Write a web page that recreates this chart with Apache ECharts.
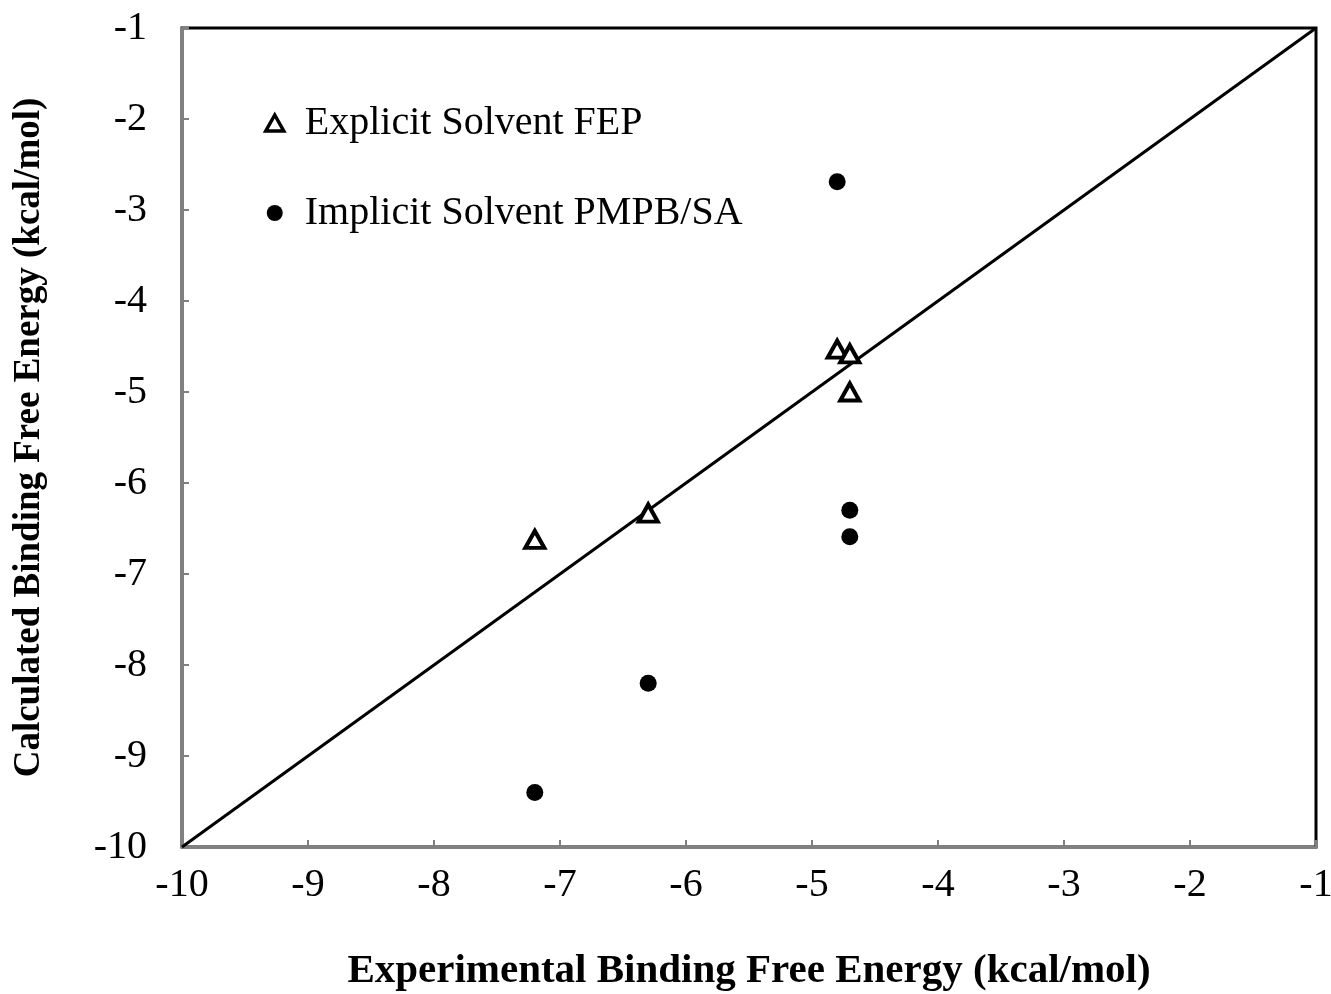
<!DOCTYPE html>
<html>
<head>
<meta charset="utf-8">
<script src="https://cdn.jsdelivr.net/npm/echarts@6/dist/echarts.min.js"></script>
<style>
    html, body { margin: 0; padding: 0; background: #fff; }
    #chart { width: 1331px; height: 994px; }
</style>
</head>
<body>
<div id="chart"></div>
<script>
// 数据
var fepExp = [-7.2, -6.3, -4.8, -4.7, -4.7];
var fepCalc = [-6.62, -6.33, -4.53, -4.58, -5.0];
var pbExp = [-4.8, -4.7, -4.7, -6.3, -7.2];
var pbCalc = [-2.69, -6.3, -6.59, -8.2, -9.4];
var diagLine = [-10, -1];
var seriesNames = ['Explicit Solvent FEP', 'Implicit Solvent PMPB/SA'];

function pairs(xs, ys) {
    var out = [];
    xs.forEach(function (x, i) {
        out.push([x, ys[i]]);
    });
    return out;
}

var font = '"Liberation Serif", "Times New Roman", serif';

var myChart = echarts.init(document.getElementById('chart'));
var option = {
    backgroundColor: '#fff',
    animation: false,
    grid: {
        left: 182, top: 28, right: 15, bottom: 147,
        outerBoundsMode: 'none',
        containLabel: false,
        show: true, borderColor: '#000', borderWidth: 3
    },
    legend: {
        data: [
            { name: seriesNames[0], itemStyle: { color: '#fff', borderColor: '#000', borderWidth: 3.5 } },
            { name: seriesNames[1] }
        ],
        orient: 'vertical',
        left: 259, top: 98,
        itemGap: 50,
        itemWidth: 18, itemHeight: 16,
        textStyle: { fontFamily: font, fontSize: 40, color: '#000', padding: [0, 0, 0, 16] }
    },
    xAxis: {
        type: 'value', min: -10, max: -1, interval: 1,
        name: 'Experimental Binding Free Energy (kcal/mol)',
        nameLocation: 'middle', nameGap: 104,
        nameTextStyle: { fontFamily: font, fontSize: 41, fontWeight: 'bold', color: '#000' },
        axisLine: { lineStyle: { color: '#808080', width: 3 } },
        axisTick: { inside: true, length: 7, lineStyle: { color: '#808080', width: 2 } },
        axisLabel: { fontFamily: font, fontSize: 40, color: '#000', margin: 18 },
        splitLine: { show: false }
    },
    yAxis: {
        type: 'value', min: -10, max: -1, interval: 1,
        name: 'Calculated Binding Free Energy (kcal/mol)',
        nameLocation: 'middle', nameGap: 134,
        nameTextStyle: { fontFamily: font, fontSize: 37, fontWeight: 'bold', color: '#000' },
        axisLine: { lineStyle: { color: '#808080', width: 3 } },
        axisTick: { inside: true, length: 7, lineStyle: { color: '#808080', width: 2 } },
        axisLabel: { fontFamily: font, fontSize: 40, color: '#000', margin: 35 },
        splitLine: { show: false }
    },
    series: [
        {
            type: 'line',
            data: pairs(diagLine, diagLine),
            symbol: 'none',
            lineStyle: { color: '#000', width: 3 },
            z: 1,
            silent: true
        },
        {
            name: seriesNames[0],
            type: 'scatter',
            data: pairs(fepExp, fepCalc),
            symbol: 'triangle',
            symbolSize: [19, 17],
            itemStyle: { color: '#fff', borderColor: '#000', borderWidth: 4, opacity: 1 },
            z: 3
        },
        {
            name: seriesNames[1],
            type: 'scatter',
            data: pairs(pbExp, pbCalc),
            symbol: 'circle',
            symbolSize: 17,
            itemStyle: { color: '#000', opacity: 1 },
            z: 3
        }
    ]
};
myChart.setOption(option);
</script>
</body>
</html>
